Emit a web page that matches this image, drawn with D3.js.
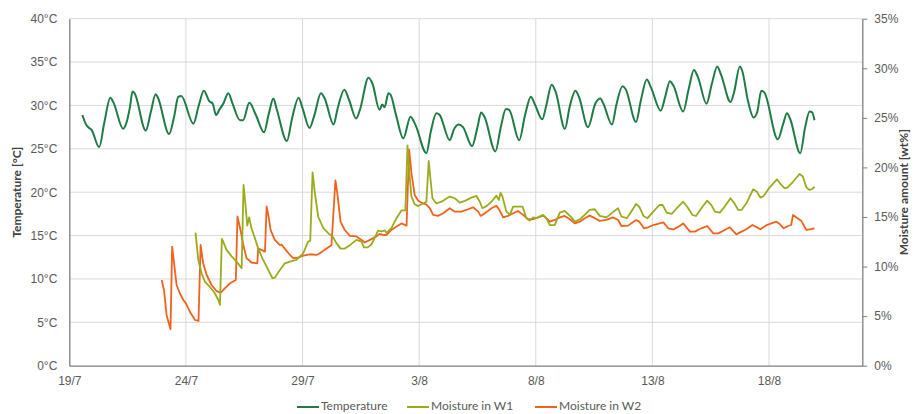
<!DOCTYPE html>
<html>
<head>
<meta charset="utf-8">
<script src="https://cdn.jsdelivr.net/npm/d3@7"></script>
<style>
  html, body { margin: 0; padding: 0; background: #fff; }
  svg { display: block; font-family: Lato, "Open Sans", "Liberation Sans", sans-serif; }
</style>
</head>
<body>
<svg id="chart" width="919" height="414"></svg>
<script>
// Measurement series start date; all times are in days after midnight of this date
const startDate = "2023-07-19";

// Air temperature [°C]
const tempDays = [0.56,0.72,0.85,0.95,1.28,1.5,1.76,1.9,2.31,2.45,2.6,2.71,2.8,3.28,3.5,3.7,3.8,4.28,4.5,4.67,4.8,5.32,5.55,5.77,6.0,6.15,6.29,6.45,6.6,6.82,7.0,7.32,7.45,7.72,8.0,8.35,8.55,8.75,8.9,9.33,9.55,9.83,10.0,10.3,10.5,10.79,10.95,11.33,11.5,11.79,12.0,12.3,12.45,12.83,13.0,13.3,13.42,13.52,13.68,13.78,14.0,14.32,14.63,14.85,15.31,15.5,15.74,15.88,16.31,16.5,16.7,16.88,17.27,17.5,17.66,17.8,18.27,18.5,18.72,18.86,19.29,19.55,19.79,19.95,20.28,20.45,20.68,20.85,21.25,21.45,21.7,21.85,22.24,22.55,22.77,22.9,23.27,23.45,23.72,23.85,24.3,24.5,24.76,24.95,25.36,25.55,25.75,25.9,26.32,26.55,26.78,26.95,27.32,27.55,27.78,27.95,28.35,28.5,28.75,28.85,29.1,29.34,29.5,29.67,29.8,30.38,30.6,30.77,30.9,31.34,31.55,31.74,31.85,31.95];
const tempValues = [28.9,27.8,27.4,27.2,25.2,28.0,30.9,30.3,27.3,28.0,29.8,31.6,31.4,27.1,29.3,31.3,30.9,26.7,28.8,31.0,31.1,27.9,30.0,31.7,30.5,30.2,28.9,29.6,30.2,31.4,30.2,28.3,28.3,30.3,28.9,26.9,29.0,30.8,29.5,25.9,28.5,30.9,29.7,27.4,28.8,31.4,30.8,27.8,29.6,31.8,30.6,28.5,29.4,33.2,32.5,29.5,30.1,29.8,31.4,31.2,29.0,26.2,28.7,27.7,24.5,27.0,29.1,28.9,26.0,27.3,27.8,27.5,25.3,27.5,29.2,28.7,24.7,27.5,29.6,29.5,26.0,29.0,31.0,30.2,28.4,30.0,32.4,31.6,27.3,29.8,31.7,31.0,27.5,30.2,30.8,30.2,27.8,30.0,32.2,31.9,28.1,30.5,33.0,32.0,29.4,31.0,32.8,32.3,29.3,31.8,34.1,33.3,30.2,32.5,34.5,33.5,30.4,31.5,34.5,34.0,30.5,28.6,29.3,31.7,31.5,26.1,27.8,29.1,28.5,24.5,27.5,29.3,29.2,28.3];

// Moisture content of wall W1 [wt%]
const w1Days = [5.41,5.53,5.67,5.81,6.03,6.24,6.39,6.46,6.54,6.6,6.74,6.96,7.17,7.39,7.47,7.56,7.63,7.71,7.81,7.96,8.1,8.31,8.53,8.71,8.81,9.03,9.24,9.46,9.74,10.03,10.24,10.33,10.43,10.53,10.67,10.89,11.1,11.29,11.46,11.63,11.81,12.03,12.31,12.53,12.63,12.8,12.96,13.24,13.4,13.53,13.6,13.81,14.03,14.24,14.41,14.5,14.57,14.67,14.81,14.96,15.1,15.31,15.41,15.49,15.57,15.74,15.96,16.31,16.53,16.74,16.96,17.24,17.46,17.6,17.71,17.89,18.1,18.31,18.42,18.49,18.57,18.74,18.89,19.03,19.43,19.6,19.74,19.89,20.03,20.31,20.45,20.6,20.81,21.03,21.24,21.53,21.67,21.89,22.1,22.31,22.53,22.74,23.03,23.31,23.53,23.67,23.9,24.05,24.3,24.44,24.62,24.79,25.04,25.3,25.44,25.61,25.83,26.04,26.32,26.5,26.72,26.87,27.1,27.35,27.53,27.68,27.89,28.1,28.35,28.53,28.68,28.82,29.03,29.32,29.48,29.63,29.77,30.03,30.34,30.53,30.67,30.8,31.03,31.31,31.45,31.6,31.74,31.85,31.95];
const w1Values = [13.43,10.68,9.32,8.49,7.96,7.31,6.63,6.13,12.78,12.51,11.68,11.03,10.5,9.83,18.24,16.06,14.13,14.96,13.87,12.86,11.81,10.68,9.66,8.82,8.88,9.66,10.33,10.5,10.68,11.34,12.51,12.6,19.49,17.41,15.05,13.87,13.36,13.04,12.34,11.81,11.81,12.16,12.69,12.51,11.94,11.94,12.25,13.63,13.56,13.65,13.39,13.87,14.88,15.66,15.66,22.23,19.73,17.06,16.28,16.1,16.28,16.54,20.65,18.73,16.89,16.36,16.54,17.06,16.89,16.45,16.63,16.95,17.12,16.54,15.88,16.1,16.54,17.15,16.71,17.46,17.06,15.54,15.21,16.05,16.05,14.88,14.64,14.96,14.88,15.21,14.88,14.18,14.18,15.44,15.61,14.96,14.53,14.77,15.21,15.71,15.78,15.11,14.96,15.49,15.88,15.05,14.88,15.37,16.31,16.01,15.1,14.88,15.54,16.21,16.21,15.44,15.31,15.88,16.54,16.01,15.2,15.1,15.88,16.65,16.19,15.54,15.44,16.05,16.89,16.32,15.71,15.71,16.38,17.79,17.54,16.95,17.12,17.99,18.8,18.23,17.89,17.99,18.55,19.34,19.08,17.99,17.72,17.82,18.05];

// Moisture content of wall W2 [wt%]
const w2Days = [3.96,4.06,4.17,4.34,4.41,4.6,4.74,4.89,5.0,5.17,5.39,5.54,5.63,5.74,5.89,6.1,6.31,6.49,6.67,6.89,7.14,7.21,7.34,7.46,7.6,7.81,8.06,8.1,8.24,8.39,8.46,8.53,8.63,8.81,9.03,9.1,9.24,9.46,9.6,9.81,10.03,10.31,10.6,10.74,11.03,11.24,11.41,11.49,11.63,11.81,12.03,12.31,12.53,12.67,12.89,13.17,13.31,13.46,13.6,13.81,14.03,14.24,14.46,14.57,14.67,14.81,14.96,15.17,15.3,15.46,15.6,15.81,16.03,16.31,16.53,16.81,17.1,17.31,17.53,17.64,17.86,18.1,18.31,18.43,18.6,18.81,19.03,19.24,19.46,19.67,19.89,20.1,20.31,20.45,20.6,20.81,21.03,21.24,21.46,21.67,21.89,22.1,22.31,22.53,22.74,23.03,23.31,23.53,23.67,23.96,24.3,24.44,24.64,24.82,25.04,25.47,25.68,25.9,26.1,26.32,26.61,26.82,27.1,27.35,27.61,27.82,28.1,28.32,28.6,28.82,29.03,29.29,29.45,29.63,29.9,30.1,30.31,30.45,30.63,30.82,30.95,31.03,31.18,31.38,31.6,31.74,31.95];
const w2Values = [8.65,7.64,5.12,3.67,12.01,8.14,7.31,6.63,6.29,5.45,4.61,4.51,12.18,10.33,9.15,8.14,7.53,7.37,7.79,8.31,8.65,15.05,13.69,12.18,10.85,10.41,10.33,11.81,11.68,11.51,16.06,15.23,13.69,12.69,12.16,12.21,11.81,11.17,10.85,10.9,11.11,11.24,11.17,11.34,11.81,12.16,18.68,17.41,14.53,13.69,13.09,13.04,12.69,12.43,12.69,13.04,13.3,13.17,13.21,13.69,14.03,14.35,14.13,21.79,19.4,17.21,16.63,16.36,16.28,15.88,15.21,15.11,15.37,15.88,15.54,15.54,15.78,15.98,15.54,15.11,15.44,15.88,16.12,15.75,14.97,15.11,15.37,15.61,15.21,14.77,14.77,14.96,15.14,14.88,14.53,14.7,14.96,15.11,14.77,14.35,14.53,14.88,15.14,14.88,14.61,14.7,14.96,14.7,14.09,14.13,14.7,14.53,13.86,13.96,14.19,14.46,13.86,13.74,14.0,14.35,13.52,13.52,13.86,14.09,13.35,13.35,13.69,13.96,13.25,13.52,13.76,14.19,14.0,13.76,14.18,14.36,14.53,14.31,13.86,14.09,14.19,15.2,14.96,14.63,13.69,13.76,13.86];

// Axis ticks
const xTickLabels = ["19/7", "24/7", "29/7", "3/8", "8/8", "13/8", "18/8"];
const xTickStepDays = 5;
const xSpanDays = 34;
const tempTicks = [0, 5, 10, 15, 20, 25, 30, 35, 40];
const moistTicks = [0, 5, 10, 15, 20, 25, 30, 35];

const seriesNames = ["Temperature", "Moisture in W1", "Moisture in W2"];
const seriesColors = ["#1e7b46", "#9aab1c", "#f0621e"];

const svg = d3.select("#chart");
const W = 919, H = 414;
const margin = { top: 18.7, right: 56.7, bottom: 48.3, left: 69.3 };
const iw = W - margin.left - margin.right;
const ih = H - margin.top - margin.bottom;

const t0 = d3.timeParse("%Y-%m-%d")(startDate);
const toDate = d => new Date(t0.getTime() + d * 864e5);

const x = d3.scaleTime().domain([t0, toDate(xSpanDays)]).range([0, iw]);
const yT = d3.scaleLinear().domain([0, 40]).range([ih, 0]);
const yM = d3.scaleLinear().domain([0, 35]).range([ih, 0]);

const g = svg.append("g").attr("transform", `translate(${margin.left},${margin.top})`);

const xTickDates = xTickLabels.map((_, i) => toDate(i * xTickStepDays));

// Gridlines
g.append("g")
  .selectAll("line.h")
  .data(tempTicks.filter(v => v > 0))
  .join("line")
  .attr("x1", 0).attr("x2", iw)
  .attr("y1", d => yT(d)).attr("y2", d => yT(d))
  .attr("stroke", "#d9d9d9").attr("stroke-width", 1);

g.append("g")
  .selectAll("line.v")
  .data(xTickDates.slice(1))
  .join("line")
  .attr("x1", d => x(d)).attr("x2", d => x(d))
  .attr("y1", 0).attr("y2", ih)
  .attr("stroke", "#d9d9d9").attr("stroke-width", 1);

// Left axis
const axL = g.append("g")
  .call(d3.axisLeft(yT).tickValues(tempTicks).tickSize(0).tickPadding(12).tickFormat(d => d + "°C"));
axL.select(".domain").attr("stroke", "#7f7f7f").attr("stroke-width", 1.3);
axL.selectAll("text").attr("fill", "#595959").attr("font-size", 12);

// Right axis
const axR = g.append("g").attr("transform", `translate(${iw},0)`)
  .call(d3.axisRight(yM).tickValues(moistTicks).tickSizeInner(5).tickSizeOuter(0).tickPadding(7).tickFormat(d => d + "%"));
axR.select(".domain").attr("stroke", "#7f7f7f").attr("stroke-width", 1.3);
axR.selectAll("line").attr("stroke", "#7f7f7f");
axR.selectAll("text").attr("fill", "#595959").attr("font-size", 12);

// Bottom axis
const axB = g.append("g").attr("transform", `translate(0,${ih})`)
  .call(d3.axisBottom(x).tickValues(xTickDates).tickSize(0).tickPadding(11)
    .tickFormat((d, i) => xTickLabels[i]));
axB.select(".domain").attr("stroke", "#7f7f7f").attr("stroke-width", 1.3);
axB.selectAll("text").attr("fill", "#595959").attr("font-size", 12);

// Series
const lineT = d3.line().curve(d3.curveMonotoneX)
  .x((d, i) => x(toDate(tempDays[i]))).y(d => yT(d));
const lineM = d3.line().curve(d3.curveLinear)
  .x(d => x(toDate(d[0]))).y(d => yM(d[1]));

g.append("path").datum(w2Days.map((d, i) => [d, w2Values[i]]))
  .attr("d", lineM).attr("fill", "none").attr("stroke", seriesColors[2]).attr("stroke-width", 1.8).attr("stroke-linejoin", "round");
g.append("path").datum(w1Days.map((d, i) => [d, w1Values[i]]))
  .attr("d", lineM).attr("fill", "none").attr("stroke", seriesColors[1]).attr("stroke-width", 1.8).attr("stroke-linejoin", "round");
g.append("path").datum(tempValues)
  .attr("d", lineT).attr("fill", "none").attr("stroke", seriesColors[0]).attr("stroke-width", 2).attr("stroke-linejoin", "round");

// Axis titles
svg.append("text")
  .attr("transform", `translate(18,${margin.top + ih / 2}) rotate(-90)`)
  .attr("text-anchor", "middle").attr("dominant-baseline", "middle")
  .attr("font-size", 12).attr("font-weight", "bold").attr("fill", "#404040")
  .text("Temperature [°C]");
svg.append("text")
  .attr("transform", `translate(905,${margin.top + ih / 2}) rotate(-90)`)
  .attr("text-anchor", "middle").attr("dominant-baseline", "middle")
  .attr("font-size", 12).attr("font-weight", "bold").attr("fill", "#404040")
  .text("Moisture amount [wt%]");

// Legend
const legendX = [297, 407, 535];
const leg = svg.append("g").attr("transform", "translate(0,407)");
seriesNames.forEach((name, i) => {
  leg.append("line")
    .attr("x1", legendX[i]).attr("x2", legendX[i] + 22)
    .attr("y1", 0).attr("y2", 0)
    .attr("stroke", seriesColors[i]).attr("stroke-width", 2);
  leg.append("text")
    .attr("x", legendX[i] + 24).attr("y", 0)
    .attr("dominant-baseline", "middle")
    .attr("font-size", 12).attr("fill", "#595959")
    .text(name);
});
</script>
</body>
</html>
